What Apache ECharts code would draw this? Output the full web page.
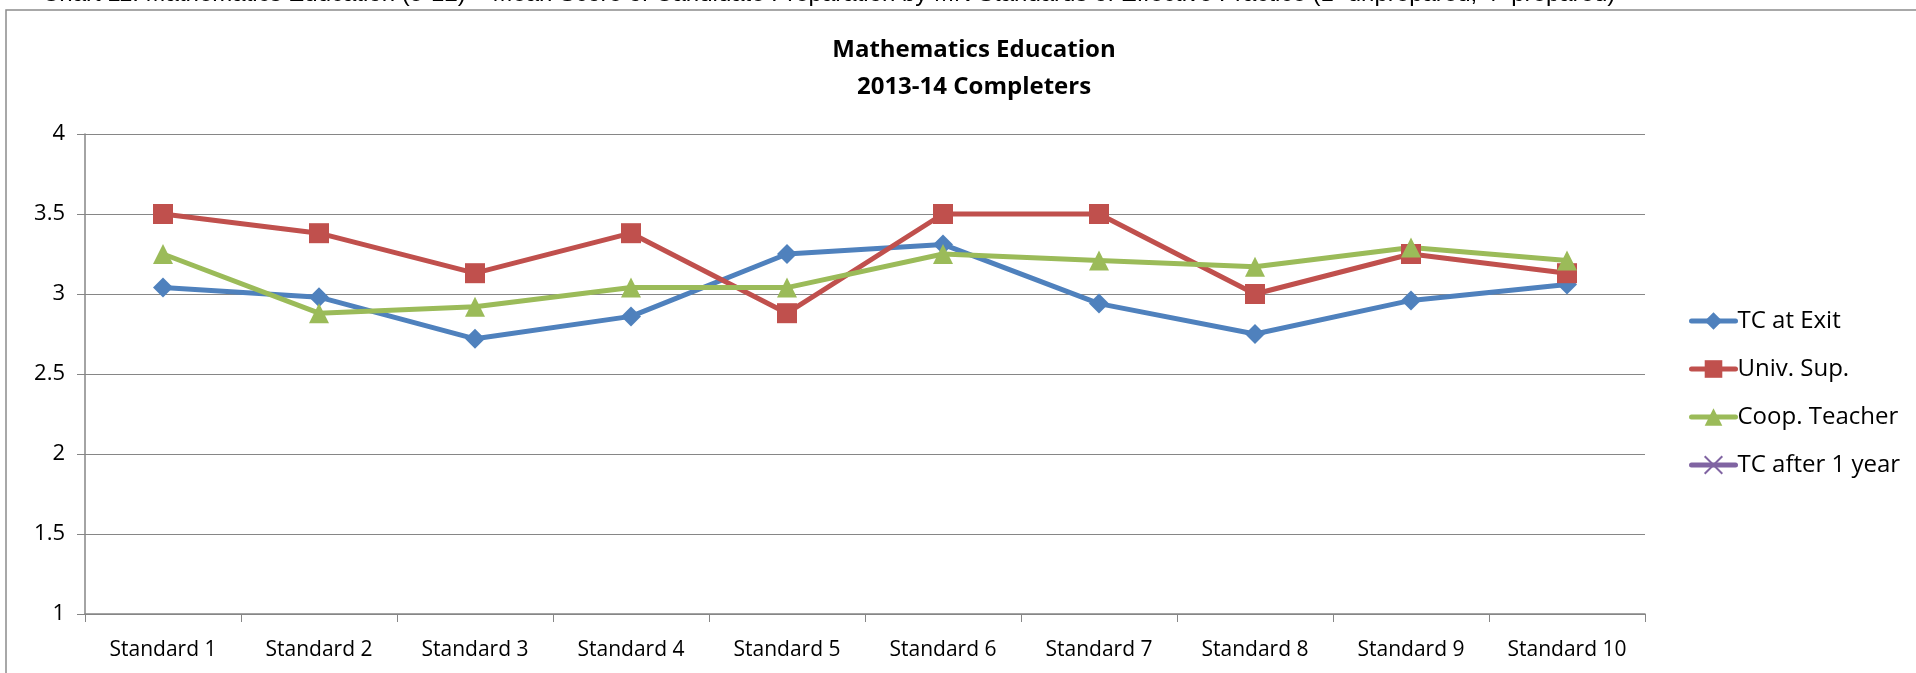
<!DOCTYPE html>
<html>
<head>
<meta charset="utf-8">
<script src="https://cdn.jsdelivr.net/npm/echarts@6/dist/echarts.min.js"></script>
<style>
    html, body { margin: 0; padding: 0; background: #fff; }
    #main { width: 1916px; height: 673px; }
</style>
</head>
<body>
<div id="main"></div>
<script>
// categories and series values
var categories = ['Standard 1', 'Standard 2', 'Standard 3', 'Standard 4', 'Standard 5',
    'Standard 6', 'Standard 7', 'Standard 8', 'Standard 9', 'Standard 10'];
var tcAtExit = [3.04, 2.98, 2.72, 2.86, 3.25, 3.31, 2.94, 2.75, 2.96, 3.06];
var univSup = [3.5, 3.38, 3.13, 3.38, 2.88, 3.5, 3.5, 3.0, 3.25, 3.13];
var coopTeacher = [3.25, 2.88, 2.92, 3.04, 3.04, 3.25, 3.21, 3.17, 3.29, 3.21];
var tcAfterYear = [null, null, null, null, null, null, null, null, null, null];
var yTicks = [1, 1.5, 2, 2.5, 3, 3.5, 4];

var font = 'Open Sans';
var chart = echarts.init(document.getElementById('main'));

function lineSeries(name, data, color, symbol, size) {
    return {
        name: name,
        type: 'line',
        data: data,
        symbol: symbol,
        symbolSize: size,
        showAllSymbol: true,
        lineStyle: { color: color, width: 5 },
        itemStyle: { color: color },
        emphasis: { disabled: true },
        animation: false
    };
}

var option = {
    backgroundColor: '#fff',
    textStyle: { fontFamily: font },
    title: [{
        // caption above the chart box, mostly cut off at the top edge
        text: 'Chart 11: Mathematics Education (5-12) \u2013 Mean Score of Candidate Preparation by MN Standards of Effective Practice (1=unprepared, 4=prepared)',
        left: 37,
        top: -23,
        textStyle: { fontFamily: 'Liberation Sans', fontSize: 24, fontWeight: 'normal', color: '#000' }
    }, {
        text: 'Mathematics Education\n2013-14 Completers',
        left: 969,
        top: 27,
        textAlign: 'center',
        textStyle: { fontSize: 24, fontWeight: 'bold', color: '#000', lineHeight: 37 }
    }],
    graphic: [{
        type: 'rect',
        shape: { x: 6, y: 10, width: 2100, height: 1000 },
        style: { fill: null, stroke: '#8c8c8c', lineWidth: 1.5 },
        silent: true
    }],
    legend: {
        orient: 'vertical',
        left: 1684,
        top: 304,
        itemWidth: 44,
        itemHeight: 22,
        itemGap: 24,
        lineStyle: { width: 5, cap: 'round' },
        textStyle: { fontSize: 24, lineHeight: 24, color: '#000', padding: [0, 0, 0, -3] },
        data: ['TC at Exit', 'Univ. Sup.', 'Coop. Teacher', 'TC after 1 year']
    },
    grid: { left: 85, right: 271, top: 134, bottom: 59 },
    xAxis: {
        type: 'category',
        data: categories,
        boundaryGap: true,
        axisLine: { lineStyle: { color: '#868686', width: 1.5 } },
        axisTick: { show: true, length: 8, lineStyle: { color: '#868686' } },
        axisLabel: { fontSize: 21, color: '#000', margin: 26 }
    },
    yAxis: {
        type: 'value',
        min: yTicks[0],
        max: yTicks[yTicks.length - 1],
        interval: 0.5,
        axisLine: { show: true, lineStyle: { color: '#868686', width: 1.5 } },
        axisTick: { show: true, length: 8, lineStyle: { color: '#868686' } },
        splitLine: { lineStyle: { color: '#868686', width: 1 } },
        axisLabel: { fontSize: 22, color: '#000', margin: 20 }
    },
    series: [
        lineSeries('TC at Exit', tcAtExit, '#4F81BD', 'diamond', 20),
        lineSeries('Univ. Sup.', univSup, '#C0504D', 'rect', 20),
        lineSeries('Coop. Teacher', coopTeacher, '#9BBB59', 'triangle', 20),
        {
            name: 'TC after 1 year',
            type: 'line',
            data: tcAfterYear,
            symbol: 'path://M0,0L10,10M10,0L0,10',
            symbolSize: 16,
            lineStyle: { color: '#8064A2', width: 5 },
            itemStyle: { color: '#8064A2', borderColor: '#8064A2', borderWidth: 2 },
            animation: false
        }
    ]
};
chart.setOption(option);
</script>
</body>
</html>
